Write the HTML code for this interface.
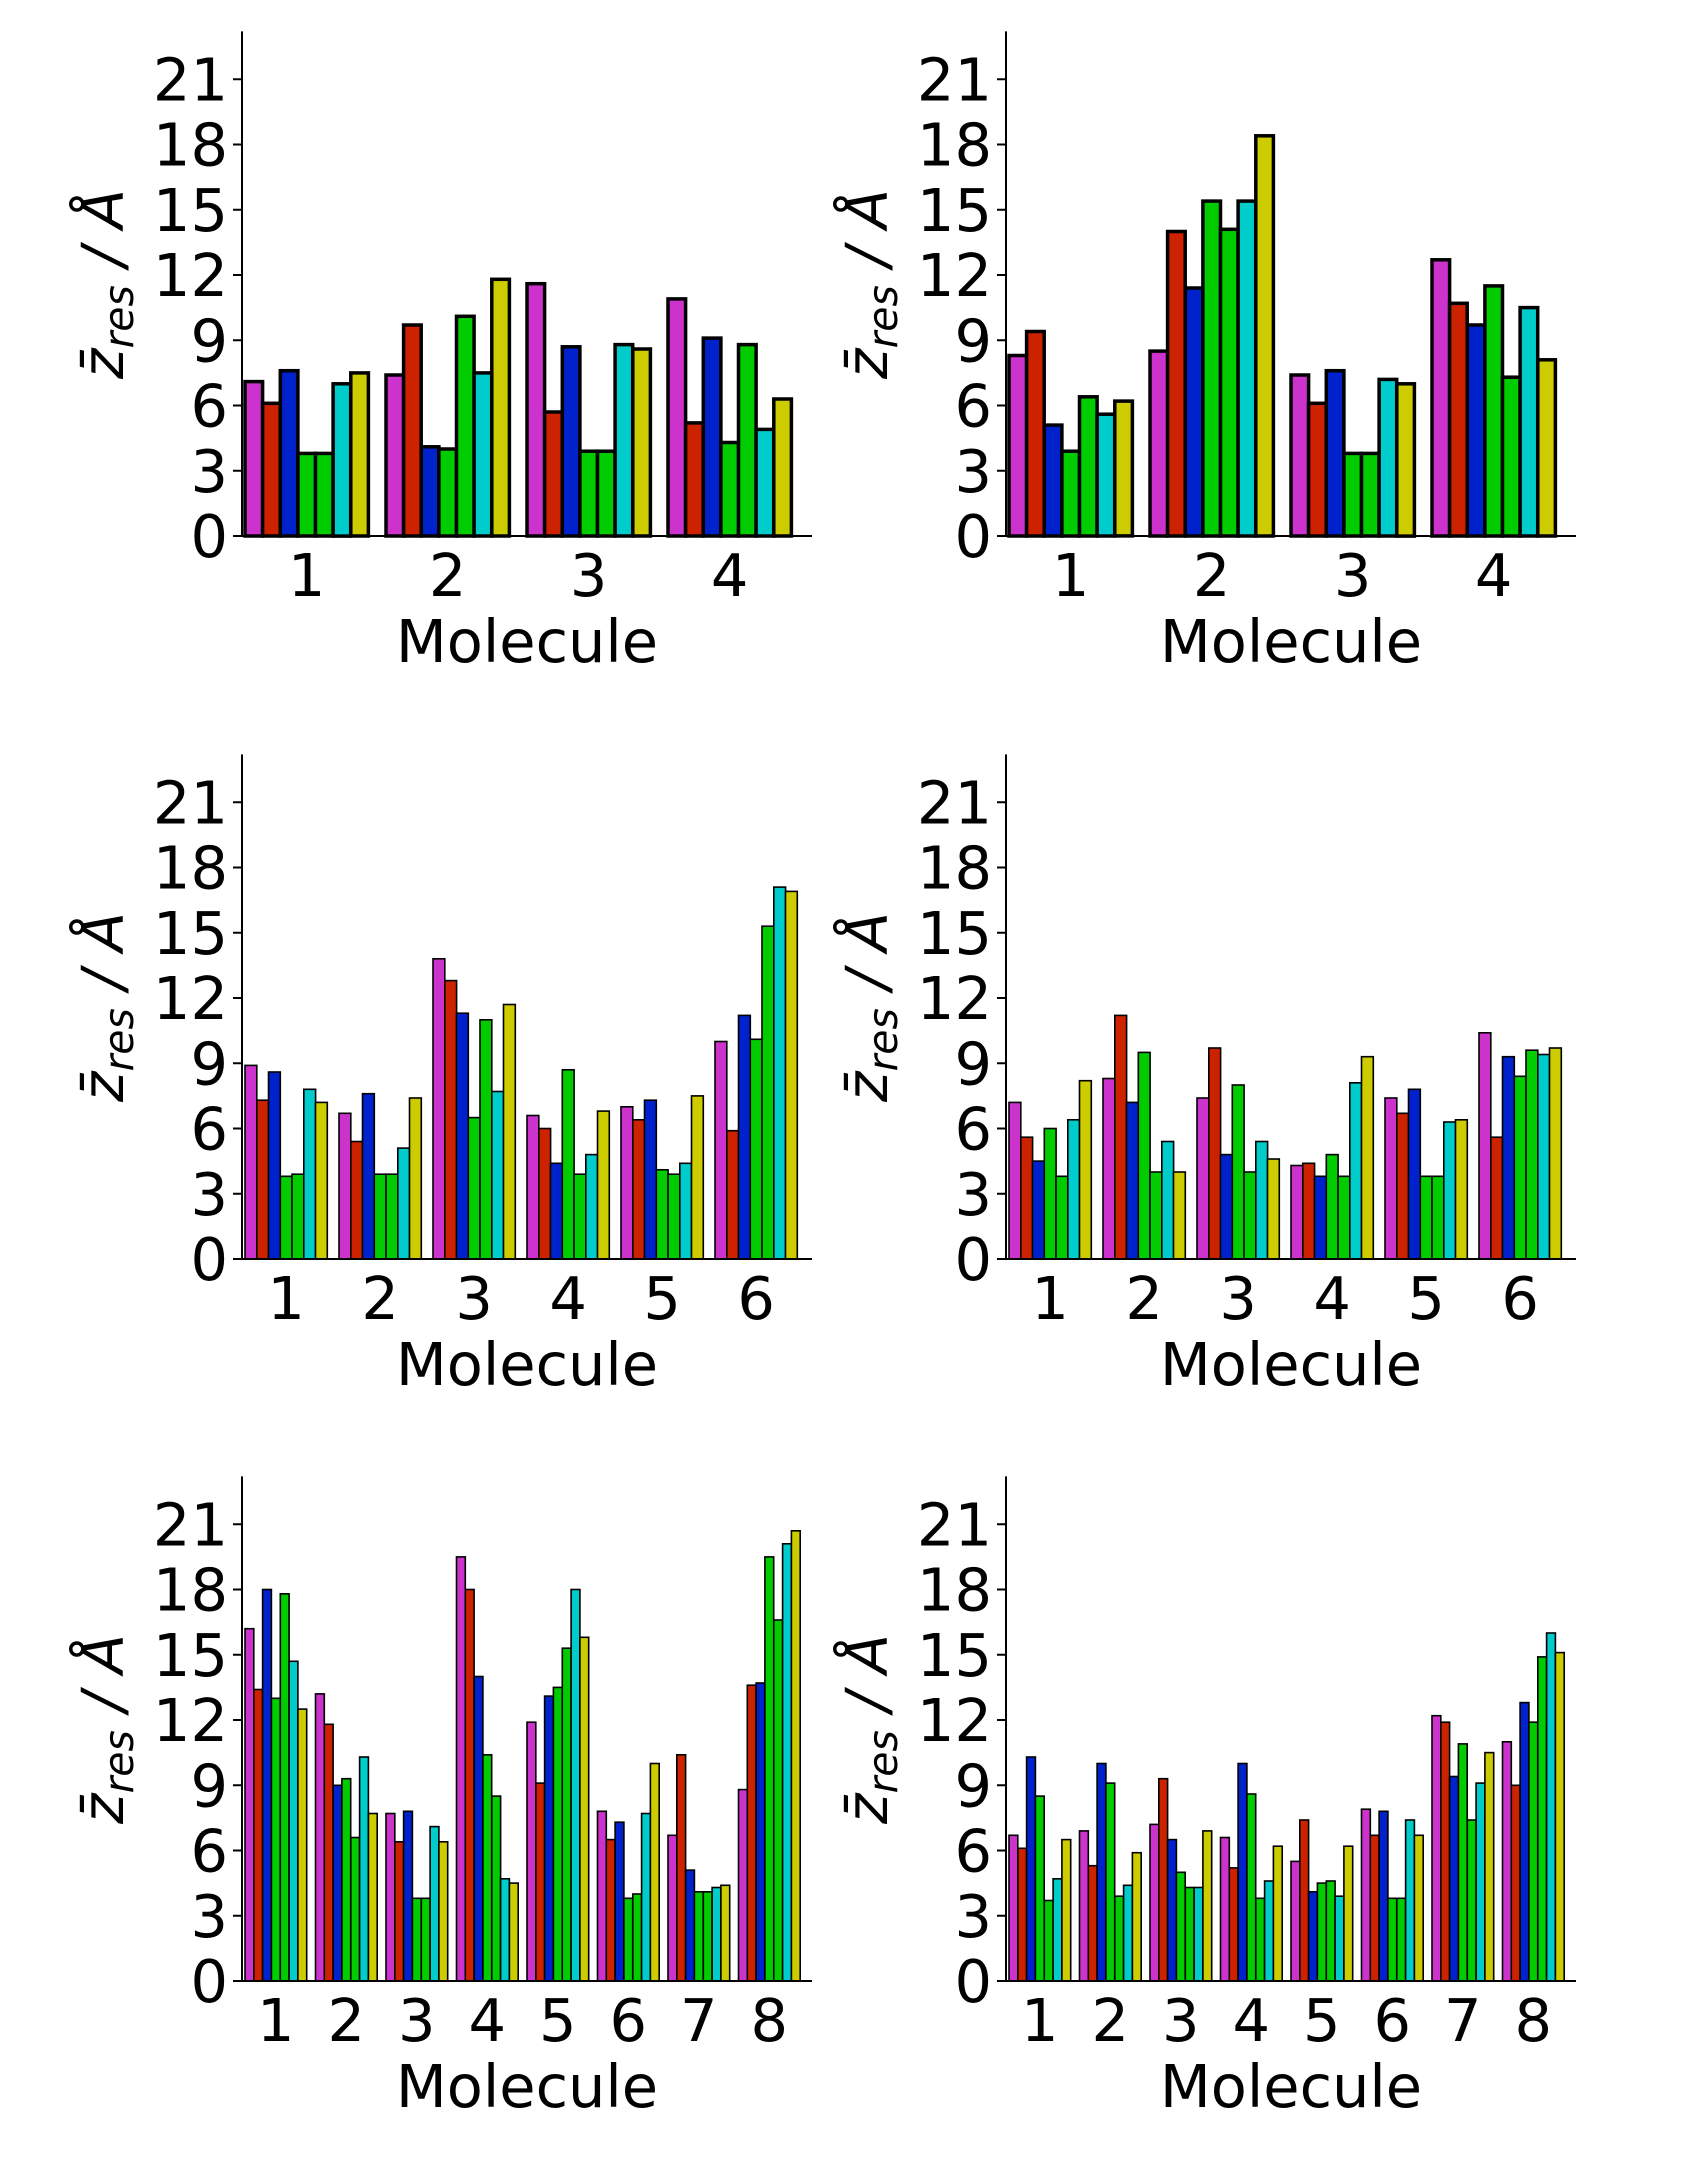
<!DOCTYPE html>
<html><head><meta charset="utf-8"><style>
html,body{margin:0;padding:0;background:#fff;}
svg{display:block;}
text{font-family:"DejaVu Sans","Liberation Sans",sans-serif;fill:#000;}
</style></head><body>
<svg id="s" width="1698" height="2160" viewBox="0 0 1698 2160" xmlns="http://www.w3.org/2000/svg"></svg>
<script>
var C=["#cc33cc","#cc2200","#0022cc","#00cc00","#00cc00","#00cccc","#cccc00"];
var D=[
[[7.1,6.1,7.6,3.8,3.8,7.0,7.5],[7.4,9.7,4.1,4.0,10.1,7.5,11.8],[11.6,5.7,8.7,3.9,3.9,8.8,8.6],[10.9,5.2,9.1,4.3,8.8,4.9,6.3]],
[[8.3,9.4,5.1,3.9,6.4,5.6,6.2],[8.5,14.0,11.4,15.4,14.1,15.4,18.4],[7.4,6.1,7.6,3.8,3.8,7.2,7.0],[12.7,10.7,9.7,11.5,7.3,10.5,8.1]],
[[8.9,7.3,8.6,3.8,3.9,7.8,7.2],[6.7,5.4,7.6,3.9,3.9,5.1,7.4],[13.8,12.8,11.3,6.5,11.0,7.7,11.7],[6.6,6.0,4.4,8.7,3.9,4.8,6.8],[7.0,6.4,7.3,4.1,3.9,4.4,7.5],[10.0,5.9,11.2,10.1,15.3,17.1,16.9]],
[[7.2,5.6,4.5,6.0,3.8,6.4,8.2],[8.3,11.2,7.2,9.5,4.0,5.4,4.0],[7.4,9.7,4.8,8.0,4.0,5.4,4.6],[4.3,4.4,3.8,4.8,3.8,8.1,9.3],[7.4,6.7,7.8,3.8,3.8,6.3,6.4],[10.4,5.6,9.3,8.4,9.6,9.4,9.7]],
[[16.2,13.4,18.0,13.0,17.8,14.7,12.5],[13.2,11.8,9.0,9.3,6.6,10.3,7.7],[7.7,6.4,7.8,3.8,3.8,7.1,6.4],[19.5,18.0,14.0,10.4,8.5,4.7,4.5],[11.9,9.1,13.1,13.5,15.3,18.0,15.8],[7.8,6.5,7.3,3.8,4.0,7.7,10.0],[6.7,10.4,5.1,4.1,4.1,4.3,4.4],[8.8,13.6,13.7,19.5,16.6,20.1,20.7]],
[[6.7,6.1,10.3,8.5,3.7,4.7,6.5],[6.9,5.3,10.0,9.1,3.9,4.4,5.9],[7.2,9.3,6.5,5.0,4.3,4.3,6.9],[6.6,5.2,10.0,8.6,3.8,4.6,6.2],[5.5,7.4,4.1,4.5,4.6,3.9,6.2],[7.9,6.7,7.8,3.8,3.8,7.4,6.7],[12.2,11.9,9.4,10.9,7.4,9.1,10.5],[11.0,9.0,12.8,11.9,14.9,16.0,15.1]]
];
(function(){
var h='';
var U=21.75;
for(var p=0;p<6;p++){
 var col=p%2,row=Math.floor(p/2);
 var x0=col?1006:242,x1=col?1576:812,b=[536,1259,1981][row];
 var ytop=b-23.2*U;
 var g=D[p],n=g.length,slot=(x1-x0-6)/n,bw=slot*0.875/7,sw=row==0?3.5:1.6;
 for(var i=0;i<n;i++){
  for(var k=0;k<7;k++){
   var v=g[i][k],x=x0+3+i*slot+k*bw,y=b-v*U;
   h+='<rect x="'+x.toFixed(1)+'" y="'+y.toFixed(1)+'" width="'+bw.toFixed(1)+'" height="'+(v*U).toFixed(1)+'" fill="'+C[k]+'" stroke="#000" stroke-width="'+sw+'"/>';
  }
  var cx=x0+3+i*slot+3.5*bw;
  h+='<text x="'+cx.toFixed(1)+'" y="'+(b+60)+'" font-size="59" text-anchor="middle">'+(i+1)+'</text>';
 }
 h+='<line x1="'+x0+'" y1="'+ytop.toFixed(1)+'" x2="'+x0+'" y2="'+b+'" stroke="#000" stroke-width="2"/>';
 h+='<line x1="'+(x0-9)+'" y1="'+b+'" x2="'+x1+'" y2="'+b+'" stroke="#000" stroke-width="2"/>';
 for(var t=0;t<=21;t+=3){
  var ty=b-t*U;
  h+='<line x1="'+(x0-9)+'" y1="'+ty+'" x2="'+x0+'" y2="'+ty+'" stroke="#000" stroke-width="2"/>';
  h+='<text x="'+(x0-14)+'" y="'+(ty+21)+'" font-size="59" text-anchor="end">'+t+'</text>';
 }
 h+='<text x="'+((x0+x1)/2)+'" y="'+(b+126)+'" font-size="59" text-anchor="middle">Molecule</text>';
 var lx=col?867:103,ly=b-252;
 h+='<text transform="translate('+(lx+20)+','+ly+') rotate(-90)" font-size="58" text-anchor="middle" font-style="italic">z̄<tspan font-size="41" dy="10">res</tspan><tspan dy="-10"> / Å</tspan></text>';
}
document.getElementById('s').innerHTML=h;
})();
</script>
</body></html>
